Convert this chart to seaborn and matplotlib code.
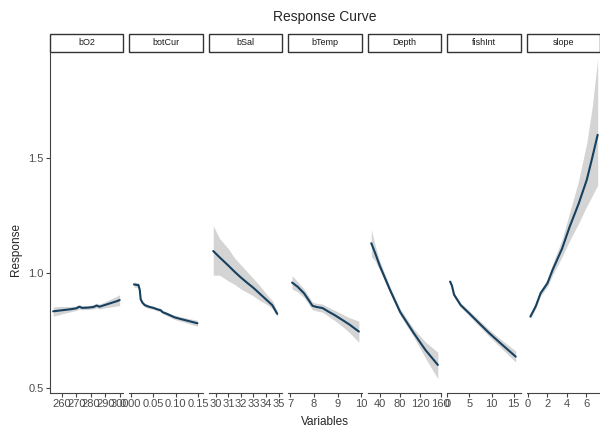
import numpy as np
import pandas as pd
import matplotlib
matplotlib.use("Agg")
import matplotlib.pyplot as plt
from matplotlib.patches import Rectangle
import seaborn as sns

# response curve values (x, fitted response, band low, band high)
bO2_x = [254, 258, 262, 266, 270, 272, 274, 278, 282, 284, 286, 290, 294, 298, 300]
bO2_y = [0.833, 0.836, 0.839, 0.842, 0.846, 0.853, 0.848, 0.849, 0.852, 0.858, 0.853, 0.861, 0.869, 0.877, 0.882]
bO2_lo = [0.812, 0.818, 0.825, 0.831, 0.837, 0.843, 0.840, 0.841, 0.843, 0.848, 0.843, 0.848, 0.852, 0.856, 0.858]
bO2_hi = [0.852, 0.854, 0.854, 0.854, 0.856, 0.862, 0.857, 0.858, 0.862, 0.868, 0.864, 0.875, 0.887, 0.898, 0.905]

botCur_x = [0.007, 0.012, 0.017, 0.020, 0.022, 0.026, 0.031, 0.040, 0.050, 0.060, 0.066, 0.071, 0.080, 0.097, 0.110, 0.130, 0.148]
botCur_y = [0.950, 0.948, 0.947, 0.925, 0.885, 0.870, 0.860, 0.853, 0.848, 0.841, 0.838, 0.829, 0.822, 0.807, 0.800, 0.790, 0.781]
botCur_lo = [0.938, 0.938, 0.938, 0.916, 0.877, 0.862, 0.852, 0.846, 0.841, 0.834, 0.831, 0.822, 0.814, 0.798, 0.790, 0.779, 0.768]
botCur_hi = [0.962, 0.958, 0.956, 0.934, 0.893, 0.878, 0.868, 0.860, 0.855, 0.848, 0.845, 0.836, 0.830, 0.816, 0.810, 0.801, 0.794]

bSal_x = [29.8, 30.3, 31.0, 31.5, 32.0, 32.5, 33.0, 33.5, 34.0, 34.5, 34.9]
bSal_y = [1.095, 1.068, 1.032, 1.005, 0.980, 0.957, 0.935, 0.910, 0.885, 0.860, 0.822]
bSal_lo = [0.990, 0.990, 0.965, 0.950, 0.930, 0.915, 0.900, 0.880, 0.865, 0.845, 0.810]
bSal_hi = [1.205, 1.150, 1.105, 1.065, 1.035, 1.005, 0.975, 0.945, 0.910, 0.880, 0.835]

bTemp_x = [7.07, 7.3, 7.57, 7.75, 7.93, 8.1, 8.36, 8.6, 8.86, 9.2, 9.5, 9.89]
bTemp_y = [0.958, 0.940, 0.912, 0.885, 0.857, 0.852, 0.847, 0.832, 0.817, 0.795, 0.775, 0.745]
bTemp_lo = [0.930, 0.918, 0.893, 0.867, 0.840, 0.835, 0.829, 0.812, 0.794, 0.767, 0.740, 0.698]
bTemp_hi = [0.988, 0.962, 0.930, 0.902, 0.873, 0.868, 0.864, 0.851, 0.838, 0.820, 0.805, 0.790]

Depth_x = [23, 30, 40, 60, 80, 107, 130, 154.5]
Depth_y = [1.129, 1.090, 1.030, 0.926, 0.830, 0.738, 0.665, 0.600]
Depth_lo = [1.070, 1.055, 1.010, 0.912, 0.816, 0.720, 0.630, 0.540]
Depth_hi = [1.190, 1.125, 1.050, 0.940, 0.844, 0.756, 0.700, 0.655]

fishInt_x = [0.6, 1.0, 1.5, 3.0, 4.9, 7.0, 9.5, 12.0, 15.5]
fishInt_y = [0.962, 0.945, 0.905, 0.860, 0.825, 0.785, 0.738, 0.695, 0.636]
fishInt_lo = [0.952, 0.935, 0.895, 0.850, 0.814, 0.772, 0.723, 0.677, 0.612]
fishInt_hi = [0.972, 0.955, 0.915, 0.870, 0.836, 0.798, 0.753, 0.713, 0.660]

slope_x = [0.25, 0.8, 1.3, 2.0, 2.53, 3.5, 4.28, 5.2, 6.04, 6.6, 7.16]
slope_y = [0.810, 0.855, 0.912, 0.955, 1.013, 1.105, 1.200, 1.300, 1.404, 1.500, 1.600]
slope_lo = [0.800, 0.845, 0.900, 0.940, 0.990, 1.070, 1.140, 1.215, 1.290, 1.335, 1.380]
slope_hi = [0.820, 0.865, 0.925, 0.972, 1.038, 1.145, 1.262, 1.400, 1.565, 1.720, 1.930]

variables = ["bO2", "botCur", "bSal", "bTemp", "Depth", "fishInt", "slope"]
curves = {
    "bO2": (bO2_x, bO2_y, bO2_lo, bO2_hi),
    "botCur": (botCur_x, botCur_y, botCur_lo, botCur_hi),
    "bSal": (bSal_x, bSal_y, bSal_lo, bSal_hi),
    "bTemp": (bTemp_x, bTemp_y, bTemp_lo, bTemp_hi),
    "Depth": (Depth_x, Depth_y, Depth_lo, Depth_hi),
    "fishInt": (fishInt_x, fishInt_y, fishInt_lo, fishInt_hi),
    "slope": (slope_x, slope_y, slope_lo, slope_hi),
}
xticks = {
    "bO2": [260, 270, 280, 290, 300],
    "botCur": [0.00, 0.05, 0.10, 0.15],
    "bSal": [30, 31, 32, 33, 34, 35],
    "bTemp": [7, 8, 9, 10],
    "Depth": [40, 80, 120, 160],
    "fishInt": [0, 5, 10, 15],
    "slope": [0, 2, 4, 6],
}
xlabels = {
    "bO2": ["260", "270", "280", "290", "300"],
    "botCur": ["0.00", "0.05", "0.10", "0.15"],
    "bSal": ["30", "31", "32", "33", "34", "35"],
    "bTemp": ["7", "8", "9", "10"],
    "Depth": ["40", "80", "120", "160"],
    "fishInt": ["0", "5", "10", "15"],
    "slope": ["0", "2", "4", "6"],
}
xlims = {
    "bO2": (251.8, 302.6),
    "botCur": (-0.003, 0.160),
    "bSal": (29.45, 35.3),
    "bTemp": (6.91, 10.01),
    "Depth": (16, 161),
    "fishInt": (-0.07, 16.6),
    "slope": (-0.14, 7.4),
}

# long table, one row per point
rows = []
for v in variables:
    xs, ys, lo, hi = curves[v]
    for a, b, c, d in zip(xs, ys, lo, hi):
        rows.append({"Variable": v, "x": a, "Response": b, "lo": c, "hi": d})
df = pd.DataFrame(rows)

sns.set_style("white")
plt.rcParams["font.family"] = ["Liberation Sans", "DejaVu Sans"]

line_col = "#16405f"
axis_col = "#444444"

fig = plt.figure(figsize=(6, 4.3), dpi=100)
axes = fig.subplots(1, 7, sharey=True, gridspec_kw=dict(wspace=0.082))
fig.subplots_adjust(left=50 / 600, right=1.0, bottom=37 / 430, top=378 / 430)

for i, v in enumerate(variables):
    ax = axes[i]
    d = df[df.Variable == v]
    ax.fill_between(d["x"], d["lo"], d["hi"], color="#d4d4d4", linewidth=0)
    sns.lineplot(data=d, x="x", y="Response", ax=ax, color=line_col,
                 linewidth=1.5, estimator=None, sort=True)
    ax.set_xlim(*xlims[v])
    ax.set_ylim(0.478, 1.96)
    ax.set_xticks(xticks[v])
    ax.set_xticklabels(xlabels[v])
    ax.set_xlabel("")
    ax.set_ylabel("")
    for s in ["top", "right"]:
        ax.spines[s].set_visible(False)
    ax.spines["bottom"].set_color(axis_col)
    ax.spines["bottom"].set_linewidth(0.8)
    if i == 0:
        ax.spines["left"].set_color(axis_col)
        ax.spines["left"].set_linewidth(0.8)
        ax.set_yticks([0.5, 1.0, 1.5])
        ax.set_yticklabels(["0.5", "1.0", "1.5"])
        ax.tick_params(axis="y", left=True, length=3, width=0.8, color=axis_col,
                       labelsize=8, labelcolor="#4d4d4d", pad=1.5)
    else:
        ax.spines["left"].set_visible(False)
        ax.tick_params(axis="y", left=False, labelleft=False)
    ax.tick_params(axis="x", bottom=True, length=3, width=0.8, color=axis_col,
                   labelsize=8, labelcolor="#4d4d4d", pad=1.5)
    # facet strip
    ax.add_patch(Rectangle((0, 1.0), 1.0, 0.053, transform=ax.transAxes,
                           facecolor="white", edgecolor="#333333", linewidth=1.0,
                           clip_on=False))
    ax.text(0.5, 1.0265, v, transform=ax.transAxes, ha="center", va="center",
            fontsize=6.5, color="#1a1a1a")

fig.text(325 / 600, 1 - 17 / 430, "Response Curve", ha="center", va="center", fontsize=10)
fig.text(325 / 600, 1 - 422 / 430, "Variables", ha="center", va="center", fontsize=8.5)
fig.text(16 / 600, 1 - 250 / 430, "Response", ha="center", va="center", fontsize=8.5,
         rotation=90)

fig.savefig("out.png", dpi=100)
